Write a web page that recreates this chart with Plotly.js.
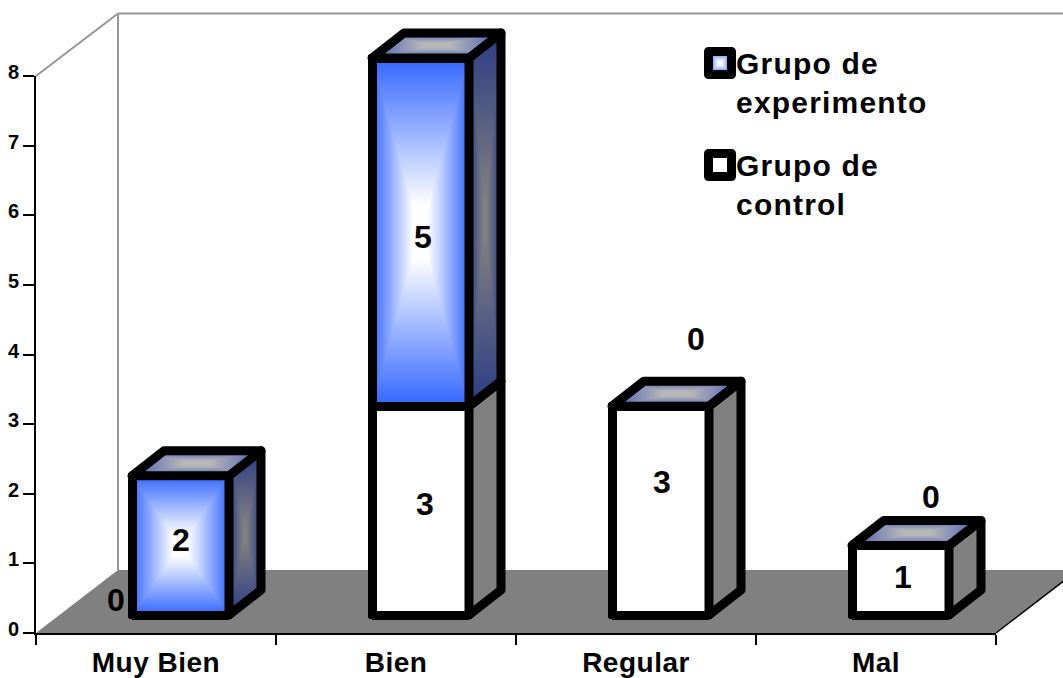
<!DOCTYPE html>
<html>
<head>
<meta charset="utf-8">
<script src="https://cdn.plot.ly/plotly-3.0.1.min.js"></script>
<style>
html,body{margin:0;padding:0;background:#fff;overflow:hidden}
#chart{width:1063px;height:678px}
.barlayer path,.shapelayer path{stroke-linejoin:round}
.legendtext{letter-spacing:1.2px}
.xtick text{letter-spacing:.5px}
</style>
</head>
<body>
<div id="chart"></div>
<script>
// ---- data
var categories = ["Muy Bien", "Bien", "Regular", "Mal"];
var controlName = "Grupo de<br>control";
var experimentName = "Grupo de<br>experimento";
var controlValues = [0, 3, 3, 1];
var experimentValues = [2, 5, 0, 0];
var yTicks = [0, 1, 2, 3, 4, 5, 6, 7, 8];

// ---- page geometry
var W = 1063, H = 678;
var axisLeft = 36, axisRight = 996, axisBottom = 633, axisTop = 76;
var unit = (axisBottom - axisTop) / 8;
var catW = (axisRight - axisLeft) / categories.length;
var shiftX = 24.5, shiftY = 18;            // bars stand inside the floor
var depthX = 32 / catW, depthY = 25 / unit; // bar depth in axis units
var barW = 97 / catW;
var edge = 9;
var wallX = 118, wallTop = 13.5, floorBack = 570, floorRight = 1078;
var font = "Liberation Sans, Arial, sans-serif";
var bottom2 = 632, top2 = 4, left2 = axisLeft + shiftX, right2 = axisRight + shiftX;

function px(x){ return x / W; }
function py(y){ return 1 - y / H; }

// ---- 3D faces computed from the values
var shapes = [], shapeFills = [];
function paper(type, x0, y0, x1, y1, color, width){
  shapes.push({type:type, xref:"paper", yref:"paper", layer:"below",
    x0:px(x0), y0:py(y0), x1:px(x1), y1:py(y1), line:{color:color, width:width}});
  shapeFills.push(null);
}
function polyPath(pts){
  return "M" + pts.map(function(p){ return p[0] + "," + p[1]; }).join("L") + "Z";
}
shapes.push({type:"path", xref:"paper", yref:"paper", layer:"below", fillcolor:"#808080",
  line:{width:0},
  path: polyPath([[px(axisLeft),py(axisBottom)],[px(wallX),py(floorBack)],[px(floorRight),py(floorBack)],[px(axisRight),py(axisBottom)]])});
shapeFills.push(null);
paper("line", axisLeft, axisTop, wallX, wallTop, "#969696", 2);
paper("line", wallX, wallTop, wallX, floorBack, "#969696", 2);
paper("line", wallX, wallTop, W, wallTop, "#969696", 2);
paper("line", axisRight, axisBottom, floorRight, floorBack, "#000000", 1.5);

function face(pts, color, fill){
  shapes.push({type:"path", xref:"x2", yref:"y2", layer:"above", fillcolor:color,
    line:{color:"#000000", width:edge}, path:polyPath(pts)});
  shapeFills.push(fill);
}
categories.forEach(function(c, i){
  var r = i + barW / 2, l = i - barW / 2;
  var a = controlValues[i], b = experimentValues[i], t = a + b;
  if(a > 0) face([[r,0],[r+depthX,depthY],[r+depthX,a+depthY],[r,a]], "#808080", null);
  if(b > 0) face([[r,a],[r+depthX,a+depthY],[r+depthX,t+depthY],[r,t]], "#2c3c85", "url(#sideBlue)");
  face([[l,t],[l+depthX,t+depthY],[r+depthX,t+depthY],[r,t]], "#8088b0", "url(#topBlue)");
});

// ---- value labels
var annotations = [];
function label(i, y, text, dx, dy){
  annotations.push({xref:"x2", yref:"y2", x:categories[i], y:y, text:String(text), showarrow:false,
    xanchor:"center", yanchor:"middle", xshift:dx, yshift:dy,
    font:{family:font, size:32, color:"#000000"}});
}
function bold(v){ return "<b>" + v + "</b>"; }
label(0, 0, bold(controlValues[0]), -65, 15);
label(0, experimentValues[0] / 2, bold(experimentValues[0]), 0, 5);
label(1, controlValues[1] / 2, bold(controlValues[1]), 4, 7);
label(1, controlValues[1] + experimentValues[1] / 2, bold(experimentValues[1]), 2, -5);
label(2, controlValues[2] / 2, bold(controlValues[2]), 1, 29);
label(2, controlValues[2], bold(experimentValues[2]), 35, 67);
label(3, controlValues[3] / 2, bold(controlValues[3]), 2, 3);
label(3, controlValues[3], bold(experimentValues[3]), 30, 48);

var traces = [
  {type:"scatter", mode:"none", x:categories, y:controlValues, xaxis:"x", yaxis:"y",
   showlegend:false, hoverinfo:"skip"},
  {type:"bar", name:controlName, x:categories, y:controlValues, xaxis:"x2", yaxis:"y2",
   legendgroup:"c", legendrank:2, cliponaxis:false, hoverinfo:"skip",
   marker:{color:"#ffffff", line:{color:"#000000", width:edge}}},
  {type:"bar", name:experimentName, x:categories, y:experimentValues, xaxis:"x2", yaxis:"y2",
   legendgroup:"e", legendrank:1, cliponaxis:false, hoverinfo:"skip",
   marker:{color:"#3366ff", line:{color:"#000000", width:edge}}}
];

var layout = {
  width:W, height:H, margin:{l:0, r:0, t:0, b:0},
  paper_bgcolor:"#ffffff", plot_bgcolor:"rgba(0,0,0,0)",
  barmode:"stack", bargap:1 - barW,
  font:{family:font, color:"#000000"},
  xaxis:{type:"category", categoryorder:"array", categoryarray:categories, range:[-0.5, 3.5],
    domain:[px(axisLeft), px(axisRight)], anchor:"y", tickson:"boundaries",
    ticks:"outside", ticklen:10, tickwidth:2, tickcolor:"#000000",
    showline:true, linecolor:"#000000", linewidth:2, showgrid:false, zeroline:false,
    tickfont:{family:font, size:28, weight:"bold", color:"#000000"}, ticklabelstandoff:3},
  yaxis:{range:[0, 8], domain:[py(axisBottom), py(axisTop)], anchor:"x",
    tickmode:"array", tickvals:yTicks, ticktext:yTicks.map(String),
    ticks:"outside", ticklen:11, tickwidth:2, tickcolor:"#000000",
    showline:true, linecolor:"#000000", linewidth:2, showgrid:false, zeroline:false,
    tickfont:{family:font, size:20, weight:"bold", color:"#000000"}, ticklabelshift:-4},
  xaxis2:{type:"category", categoryorder:"array", categoryarray:categories,
    range:[(left2 - shiftX - axisLeft) / catW - 0.5, (right2 - shiftX - axisLeft) / catW - 0.5],
    domain:[px(left2), px(right2)], anchor:"y2", visible:false},
  yaxis2:{range:[(axisBottom - shiftY - bottom2) / unit, (axisBottom - shiftY - top2) / unit],
    domain:[py(bottom2), py(top2)], anchor:"x2", visible:false},
  shapes:shapes,
  annotations:annotations,
  showlegend:true,
  legend:{x:px(696), y:py(36.5), xanchor:"left", yanchor:"top", traceorder:"grouped",
    tracegroupgap:21, bgcolor:"rgba(0,0,0,0)", borderwidth:0,
    font:{family:font, size:30, weight:"bold", color:"#000000"}}
};

function gradientDefs(){
  function sq(id, edgeColor, mid, stop){
    var s = stop / 2;
    var g = '<linearGradient id="'+id+'H" x1="0" y1="0" x2="1" y2="0">'+
        '<stop offset="0" stop-color="'+edgeColor+'"/><stop offset="'+s+'" stop-color="'+mid+'"/>'+
        '<stop offset="'+(1-s)+'" stop-color="'+mid+'"/><stop offset="1" stop-color="'+edgeColor+'"/></linearGradient>'+
      '<linearGradient id="'+id+'T" x1="0" y1="0" x2="0" y2="1">'+
        '<stop offset="0" stop-color="'+edgeColor+'"/><stop offset="'+stop+'" stop-color="'+mid+'"/></linearGradient>'+
      '<linearGradient id="'+id+'B" x1="0" y1="1" x2="0" y2="0">'+
        '<stop offset="0" stop-color="'+edgeColor+'"/><stop offset="'+stop+'" stop-color="'+mid+'"/></linearGradient>';
    return g + '<pattern id="'+id+'" patternUnits="objectBoundingBox" patternContentUnits="objectBoundingBox" x="0" y="0" width="1" height="1">'+
      '<rect width="1" height="1" fill="url(#'+id+'H)"/>'+
      '<polygon points="0,0 1,0 .5,.5" fill="url(#'+id+'T)"/>'+
      '<polygon points="0,1 1,1 .5,.5" fill="url(#'+id+'B)"/></pattern>';
  }
  return sq("frontBlue","#3366ff","#ffffff",0.85) + sq("sideBlue","#2c3c85","#808080",0.9) + sq("topBlue","#4a5cb4","#b8b8b8",0.8);
}

Plotly.newPlot("chart", traces, layout, {displayModeBar:false, staticPlot:true}).then(function(gd){
  var svg = gd.querySelector(".main-svg");
  var holder = document.createElementNS("http://www.w3.org/2000/svg", "svg");
  holder.innerHTML = "<defs>" + gradientDefs() + "</defs>";
  svg.insertBefore(holder.firstChild, svg.firstChild);

  // gradient faces
  shapeFills.forEach(function(f, i){
    if(!f) return;
    gd.querySelectorAll('.shapelayer path[data-index="'+i+'"]').forEach(function(p){ p.style.fill = f; p.style.fillOpacity = 1; });
  });
  var barTraces = gd.querySelectorAll(".barlayer .trace.bars");
  barTraces[barTraces.length - 1].querySelectorAll(".point path").forEach(function(p){ p.style.fill = "url(#frontBlue)"; });

  // legend swatches: large square with thick outline, level with the first text line
  gd.querySelectorAll(".legend .traces").forEach(function(it){
    var b = it.querySelector("path.legendbar") || it.querySelector(".legendpoints path");
    if(!b) return;
    b.setAttribute("d", "M11.5,11.5H-11.5V-11.5H11.5Z");
    b.setAttribute("transform", "translate(24,-19)");
    b.style.strokeWidth = "9px";
    b.style.stroke = "#000000";
    b.style.strokeLinejoin = "round";
    if(it.querySelector(".legendtext").textContent.indexOf("experimento") >= 0) b.style.fill = "url(#frontBlue)";
  });
});
</script>
</body>
</html>
